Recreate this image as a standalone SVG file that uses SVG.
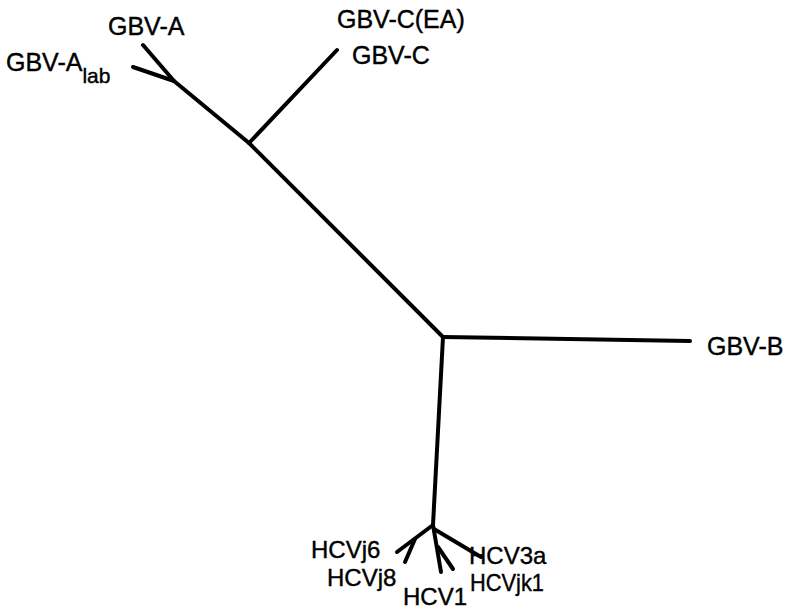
<svg xmlns="http://www.w3.org/2000/svg" width="790" height="613" viewBox="0 0 790 613">
<style>
.e{stroke:#000;stroke-width:4;fill:none;stroke-linecap:round;stroke-linejoin:round}
text{font-family:"Liberation Sans",Arial,sans-serif;font-size:25px;fill:#000;stroke:#000;stroke-width:0.4}
.h{font-size:24px}
</style>
<rect width="790" height="613" fill="#fff"/>
<g id="connectors">
<path class="e" d="M143,45 L174,81 L249,143 L443,337"/>
<path class="e" d="M133,67 L174,81"/>
<path class="e" d="M249,143 L337,50"/>
<path class="e" d="M443,337 L690,341"/>
<path class="e" d="M443,337 L433,525"/>
<path class="e" d="M433,525 L397,552"/>
<path class="e" d="M415,539 L405,562"/>
<path class="e" d="M433,525 L441,572"/>
<path class="e" d="M438,547 L453,569"/>
<path class="e" d="M434,529 L481,557"/>
</g>
<g id="GBV-A"><text x="108" y="35">GBV-A</text></g>
<g id="GBV-Alab"><text x="6" y="71">GBV-A<tspan font-size="21" dy="12">lab</tspan></text></g>
<g id="GBV-C-EA"><text x="337" y="28">GBV-C(EA)</text></g>
<g id="GBV-C"><text x="352" y="64">GBV-C</text></g>
<g id="GBV-B"><text x="707" y="355">GBV-B</text></g>
<g id="HCVj6"><text class="h" x="311" y="558">HCVj6</text></g>
<g id="HCVj8"><text class="h" x="327" y="586">HCVj8</text></g>
<g id="HCV1"><text class="h" x="403" y="605">HCV1</text></g>
<g id="HCV3a"><text class="h" x="469" y="564">HCV3a</text></g>
<g id="HCVjk1"><text class="h" x="470" y="591" textLength="74" lengthAdjust="spacingAndGlyphs">HCVjk1</text></g>
</svg>
